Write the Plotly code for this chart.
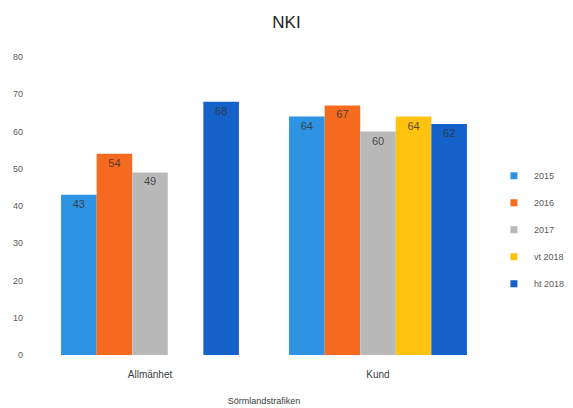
import plotly.graph_objects as go

categories = ["Allmänhet", "Kund"]
series_names = ["2015", "2016", "2017", "vt 2018", "ht 2018"]
values_2015 = [43, 64]
values_2016 = [54, 67]
values_2017 = [49, 60]
values_vt2018 = [None, 64]
values_ht2018 = [68, 62]
series_values = [values_2015, values_2016, values_2017, values_vt2018, values_ht2018]
colors = ["#2E93E3", "#F56A1E", "#B9B9B9", "#FFC20F", "#1462C9"]

fig = go.Figure()
for i, (name, vals, col) in enumerate(zip(series_names, series_values, colors)):
    fig.add_trace(go.Bar(
        name=name,
        x=categories,
        y=vals,
        marker=dict(color=col, line=dict(width=0)),
        text=[("" if v is None else str(v)) for v in vals],
        textposition="inside",
        insidetextanchor="end",
        textfont=dict(size=11, color="rgba(50,50,50,0.85)", family="Liberation Sans"),
        showlegend=False,
        legendgroup=f"g{i}",
    ))
    # small square legend keys
    fig.add_trace(go.Scatter(
        name=name, x=[None], y=[None], mode="markers",
        marker=dict(symbol="square", size=7, color=col),
        legendgroup=f"g{i}", showlegend=True,
    ))

fig.update_layout(
    width=573, height=408,
    margin=dict(l=36, r=81, t=57, b=53, autoexpand=False),
    paper_bgcolor="white", plot_bgcolor="white",
    barmode="group", bargap=0.22, bargroupgap=0,
    title=dict(text="NKI", x=0.5, xref="container", xanchor="center",
               y=0.945, yanchor="middle",
               font=dict(size=17, color="#222222", family="Liberation Sans")),
    font=dict(family="Liberation Sans", color="#595959"),
    legend=dict(xref="container", yref="container", x=0.862, xanchor="left",
                y=0.605, yanchor="top",
                font=dict(size=9, color="#595959"), tracegroupgap=8,
                itemwidth=30),
    showlegend=True,
)
fig.update_xaxes(
    showline=False, showgrid=False, ticks="", automargin=False,
    tickfont=dict(size=10, color="#404040"), ticklabelstandoff=12,
    title=dict(text="Sörmlandstrafiken", font=dict(size=9, color="#404040"), standoff=18),
)
fig.update_yaxes(
    range=[0, 80], dtick=10, showgrid=False, zeroline=False, showline=False,
    automargin=False,
    tickfont=dict(size=9, color="#595959"), ticklabelstandoff=12,
)

fig.write_html("out.html")
